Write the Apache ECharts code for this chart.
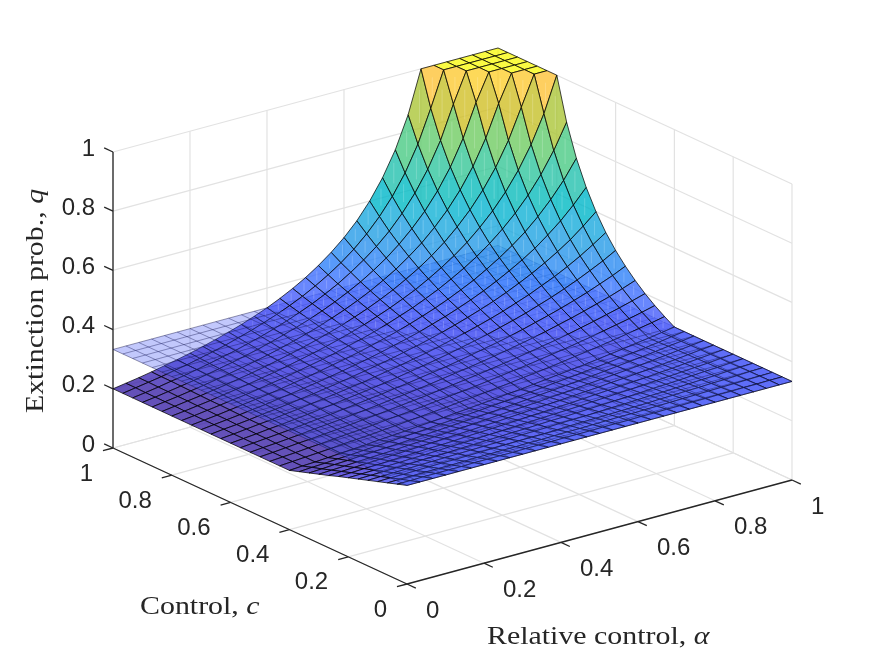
<!DOCTYPE html>
<html><head><meta charset="utf-8"><style>html,body{margin:0;background:#fff}#c{width:875px;height:657px}</style>
<script src="https://cdn.jsdelivr.net/npm/echarts@6/dist/echarts.min.js"></script></head>
<body><div id="c"></div><script>
// Extinction probability q: one row per control step c = 0, 1/30, ... 1,
// each row running over relative control alpha = 0, 1/30, ... 1.
const qRows=[
[.333,.333,.333,.333,.333,.333,.333,.333,.333,.333,.333,.333,.333,.333,.333,.333,.333,.333,.333,.333,.333,.333,.333,.333,.333,.333,.333,.333,.333,.333,.333],
[.322,.322,.323,.323,.323,.323,.324,.324,.324,.324,.325,.325,.325,.326,.326,.326,.327,.327,.327,.328,.328,.329,.329,.330,.330,.331,.331,.332,.332,.333,.333],
[.311,.312,.312,.313,.313,.313,.314,.315,.315,.316,.316,.317,.317,.318,.319,.319,.320,.321,.322,.322,.323,.324,.325,.326,.327,.328,.329,.330,.331,.332,.333],
[.300,.301,.301,.302,.303,.304,.304,.305,.306,.307,.308,.309,.310,.310,.311,.313,.314,.315,.316,.317,.318,.319,.321,.322,.324,.325,.327,.328,.330,.332,.333],
[.289,.290,.291,.292,.293,.294,.295,.296,.297,.298,.299,.300,.302,.303,.304,.306,.307,.308,.310,.312,.313,.315,.317,.318,.320,.322,.324,.326,.329,.331,.333],
[.278,.279,.280,.281,.282,.284,.285,.286,.288,.289,.291,.292,.294,.295,.297,.299,.300,.302,.304,.306,.308,.310,.312,.315,.317,.319,.322,.325,.327,.330,.333],
[.267,.268,.269,.271,.272,.274,.275,.277,.279,.280,.282,.284,.286,.288,.290,.292,.294,.296,.298,.301,.303,.306,.308,.311,.314,.317,.320,.323,.326,.330,.333],
[.256,.257,.259,.260,.262,.264,.266,.268,.269,.271,.274,.276,.278,.280,.282,.285,.287,.290,.292,.295,.298,.301,.304,.307,.310,.314,.317,.321,.325,.329,.333],
[.244,.246,.248,.250,.252,.254,.256,.258,.260,.263,.265,.267,.270,.272,.275,.278,.281,.284,.287,.290,.293,.296,.300,.303,.307,.311,.315,.319,.324,.329,.333],
[.233,.235,.237,.240,.242,.244,.246,.249,.251,.254,.256,.259,.262,.265,.268,.271,.274,.277,.281,.284,.288,.292,.296,.300,.304,.308,.313,.318,.323,.328,.333],
[.222,.224,.227,.229,.232,.234,.237,.239,.242,.245,.248,.251,.254,.257,.260,.264,.267,.271,.275,.279,.283,.287,.291,.296,.301,.306,.311,.316,.322,.327,.333],
[.211,.214,.216,.219,.221,.224,.227,.230,.233,.236,.239,.243,.246,.250,.253,.257,.261,.265,.269,.273,.278,.282,.287,.292,.297,.303,.308,.314,.320,.327,.333],
[.200,.203,.205,.208,.211,.214,.217,.221,.224,.227,.231,.234,.238,.242,.246,.250,.254,.259,.263,.268,.273,.278,.283,.288,.294,.300,.306,.313,.319,.326,.333],
[.200,.203,.206,.209,.212,.216,.219,.222,.226,.230,.234,.238,.242,.246,.251,.255,.260,.265,.270,.276,.281,.287,.293,.300,.306,.313,.320,.328,.336,.344,.353],
[.200,.203,.206,.210,.213,.217,.221,.224,.228,.233,.237,.241,.246,.251,.256,.261,.266,.272,.278,.284,.290,.297,.304,.311,.319,.327,.336,.345,.354,.364,.375],
[.200,.203,.207,.211,.214,.218,.222,.226,.231,.235,.240,.245,.250,.255,.261,.267,.273,.279,.286,.293,.300,.308,.316,.324,.333,.343,.353,.364,.375,.387,.400],
[.200,.204,.207,.211,.215,.220,.224,.228,.233,.238,.243,.249,.254,.260,.266,.273,.280,.287,.294,.302,.310,.319,.328,.338,.349,.360,.372,.385,.398,.413,.429],
[.200,.204,.208,.212,.216,.221,.226,.230,.236,.241,.247,.252,.259,.265,.272,.279,.286,.294,.303,.312,.321,.331,.342,.354,.366,.379,.393,.408,.425,.442,.462],
[.200,.204,.208,.213,.217,.222,.227,.233,.238,.244,.250,.256,.263,.270,.278,.286,.294,.303,.313,.323,.333,.345,.357,.370,.385,.400,.417,.435,.455,.476,.500],
[.200,.204,.209,.214,.218,.224,.229,.235,.241,.247,.254,.260,.268,.276,.284,.293,.302,.312,.323,.334,.346,.359,.373,.389,.405,.424,.443,.465,.489,.516,.545],
[.200,.205,.209,.214,.220,.225,.231,.237,.243,.250,.257,.265,.273,.281,.290,.300,.310,.321,.333,.346,.360,.375,.391,.409,.429,.450,.474,.500,.529,.563,.600],
[.200,.205,.210,.215,.221,.226,.233,.239,.246,.253,.261,.269,.278,.287,.297,.308,.319,.331,.345,.359,.375,.392,.411,.432,.455,.480,.508,.541,.577,.619,.667],
[.200,.205,.210,.216,.222,.228,.234,.241,.249,.256,.265,.274,.283,.293,.304,.316,.328,.342,.357,.373,.391,.411,.432,.457,.484,.514,.548,.588,.634,.687,.750],
[.200,.205,.211,.217,.223,.229,.236,.244,.251,.260,.269,.278,.288,.300,.311,.324,.338,.354,.370,.389,.409,.432,.457,.485,.517,.554,.596,.645,.703,.773,.857],
[.200,.205,.211,.217,.224,.231,.238,.246,.254,.263,.273,.283,.294,.306,.319,.333,.349,.366,.385,.405,.429,.455,.484,.517,.556,.600,.652,.714,.789,.882,1],
[.200,.206,.212,.218,.225,.232,.240,.248,.257,.267,.277,.288,.300,.313,.327,.343,.360,.379,.400,.424,.450,.480,.514,.554,.600,.655,.720,.800,.900,1,1],
[.200,.206,.212,.219,.226,.234,.242,.251,.260,.270,.281,.293,.306,.320,.336,.353,.372,.393,.417,.443,.474,.508,.549,.596,.652,.720,.804,.909,1,1,1],
[.200,.206,.213,.220,.227,.235,.244,.253,.263,.274,.286,.299,.313,.328,.345,.364,.385,.408,.435,.465,.500,.541,.588,.645,.714,.800,.909,1,1,1,1],
[.200,.206,.213,.221,.228,.237,.246,.256,.266,.278,.290,.304,.319,.336,.354,.375,.398,.425,.455,.489,.529,.577,.634,.703,.789,.900,1,1,1,1,1],
[.200,.207,.214,.221,.230,.238,.248,.258,.269,.282,.295,.310,.326,.344,.364,.387,.413,.442,.476,.516,.563,.619,.687,.773,.882,1,1,1,1,1,1],
[.200,.207,.214,.222,.231,.240,.250,.261,.273,.286,.300,.316,.333,.353,.375,.400,.429,.462,.500,.545,.600,.667,.750,.857,1,1,1,1,1,1,1]
];
const N=qRows.length-1;
// Level of the flat reference sheet.
const planeLevel=0.333;
const alphaTicks=[0,0.2,0.4,0.6,0.8,1],controlTicks=[0,0.2,0.4,0.6,0.8,1],qTicks=[0,0.2,0.4,0.6,0.8,1];
const parula=[[.2422,.1504,.6603],[.2504,.165,.7076],[.2578,.1818,.7511],[.2647,.1978,.7952],[.2706,.2147,.8364],[.2751,.2342,.871],[.2783,.2559,.8991],[.2803,.2782,.9221],[.2813,.3006,.9414],[.281,.3228,.9579],[.2795,.3447,.9717],[.276,.3667,.9829],[.2699,.3892,.9906],[.2602,.4123,.9952],[.244,.4358,.9988],[.2206,.4603,.9973],[.1963,.4847,.9892],[.1834,.5074,.9798],[.1786,.5289,.9682],[.1764,.5499,.952],[.1687,.5703,.9359],[.154,.5902,.9218],[.146,.6091,.9079],[.138,.6276,.8973],[.1248,.6459,.8883],[.1113,.6635,.8763],[.0952,.6798,.8598],[.0689,.6948,.8394],[.0297,.7082,.8163],[.0036,.7203,.7917],[.0067,.7312,.766],[.0433,.7411,.7394],[.0964,.75,.712],[.1408,.7584,.6842],[.1717,.767,.6554],[.1938,.7758,.6251],[.2161,.7843,.5923],[.247,.7918,.5567],[.2906,.7973,.5188],[.3406,.8008,.4789],[.3909,.8029,.4354],[.4456,.8024,.3909],[.5044,.7993,.348],[.5616,.7942,.3045],[.6174,.7876,.2612],[.672,.7793,.2227],[.7242,.7698,.191],[.7738,.7598,.1646],[.8203,.7498,.1535],[.8634,.7406,.1596],[.9035,.733,.1774],[.9393,.7288,.21],[.9728,.7298,.2394],[.9956,.7434,.2371],[.997,.7659,.2199],[.9952,.7893,.2028],[.9892,.8136,.1885],[.9786,.8386,.1766],[.9676,.8639,.1643],[.961,.889,.1537],[.9597,.9135,.1423],[.9628,.9373,.1265],[.9691,.9606,.1064],[.9769,.9839,.0805]];
const qMin=0.2,qMax=1,surfaceAlpha=0.8,planeAlpha=0.33;
// Orthographic view: screen displacement per unit of alpha, c and q.
const origin=[407,584],alphaDir=[385,-104],controlDir=[-294,-136],qDir=[0,-296];
const project=(a,c,q)=>[origin[0]+a*alphaDir[0]+c*controlDir[0]+q*qDir[0],origin[1]+a*alphaDir[1]+c*controlDir[1]+q*qDir[1]];
const depth=(a,c,q)=>275*a+359*c-112*q;
const faceColor=(q,al)=>{const i=Math.min(63,Math.floor((q-qMin)/(qMax-qMin)*64));const p=parula[i];return `rgba(${p[0]*255|0},${p[1]*255|0},${p[2]*255|0},${al})`;};
const chart=echarts.init(document.getElementById('c'),null,{renderer:'canvas'});
// Cells of both surfaces, painted far to near.
const cells=[];
for(let b=0;b<N;b++)for(let a=0;a<N;a++){
  const mean=(qRows[b][a]+qRows[b][a+1]+qRows[b+1][a]+qRows[b+1][a+1])/4;
  cells.push([a,b,0,depth((a+.5)/N,(b+.5)/N,mean)]);
  cells.push([a,b,1,depth((a+.5)/N,(b+.5)/N,planeLevel)]);
}
cells.sort((x,y)=>y[3]-x[3]);
const GRID='#e2e2e2',INK='#262626';
const seg=(api,p,q,color,w)=>{const s=api.coord(p),e=api.coord(q);return{type:'line',shape:{x1:s[0],y1:s[1],x2:e[0],y2:e[1]},style:{stroke:color,lineWidth:w}};};
const renderFrame=(params,api)=>{
  const ch=[];
  const P=project;
  qTicks.forEach(z=>{ch.push(seg(api,P(0,1,z),P(1,1,z),GRID,1.2));ch.push(seg(api,P(1,1,z),P(1,0,z),GRID,1.2));});
  alphaTicks.forEach(t=>{ch.push(seg(api,P(t,0,0),P(t,1,0),GRID,1.2));ch.push(seg(api,P(t,1,0),P(t,1,1),GRID,1.2));});
  controlTicks.forEach(t=>{ch.push(seg(api,P(0,t,0),P(1,t,0),GRID,1.2));ch.push(seg(api,P(1,t,0),P(1,t,1),GRID,1.2));});
  return{type:'group',children:ch};
};
const renderAxes=(params,api)=>{
  const ch=[];const P=project;
  ch.push(seg(api,P(0,1,0),P(0,1,1),INK,1.3));
  ch.push(seg(api,P(0,1,0),P(0,0,0),INK,1.3));
  ch.push(seg(api,P(0,0,0),P(1,0,0),INK,1.3));
  const label=(pt,dx,dy,txt,align)=>{const c=api.coord(pt);return{type:'text',x:c[0]+dx,y:c[1]+dy,style:{text:txt,fill:INK,font:'24px "Liberation Sans"',textAlign:align,textVerticalAlign:'middle'}};};
  qTicks.forEach(t=>{ch.push(seg(api,P(0,1,t),P(0,1.03,t),INK,1.3));ch.push(label(P(0,1,t),-18,-3,String(t),'right'));});
  controlTicks.forEach(t=>{ch.push(seg(api,P(0,t,0),P(-.026,t,0),INK,1.3));ch.push(label(P(0,t,0),-20,26,String(t),'right'));});
  alphaTicks.forEach(t=>{ch.push(seg(api,P(t,0,0),P(t,-.03,0),INK,1.3));ch.push(label(P(t,0,0),19,27,String(t),'left'));});
  return{type:'group',children:ch};
};
const renderCell=(params,api)=>{
  const a=api.value(0),b=api.value(1),layer=api.value(2);
  const q=(i,j)=>layer?planeLevel:qRows[j][i];
  const node=(i,j)=>api.coord(project(i/N,j/N,q(i,j)));
  const A=node(a,b),B=node(a+1,b),C=node(a+1,b+1),D=node(a,b+1);
  const al=layer?planeAlpha:surfaceAlpha;
  const edge=layer?'rgba(10,10,60,0.42)':'rgba(0,0,0,0.72)';
  const ch=[{type:'polygon',shape:{points:[A,B,C,D]},style:{fill:faceColor(q(a,b),al)}}];
  const line=(s,e)=>ch.push({type:'line',shape:{x1:s[0],y1:s[1],x2:e[0],y2:e[1]},style:{stroke:edge,lineWidth:1}});
  line(A,B);line(A,D);
  if(!layer){line(B,C);line(D,C);}
  else{if(a===N-1)line(B,C);if(b===N-1)line(D,C);}
  // Pale seam down the middle of steep quads.
  if(!layer){const cx=(B[0]+D[0])/2,mid=(A[1]+C[1])/2,h=Math.abs(A[1]-C[1]);if(h>14)ch.push({type:'line',shape:{x1:cx,y1:mid-h*.22,x2:cx,y2:mid+h*.22},style:{stroke:'rgba(255,255,255,0.28)',lineWidth:.7}});}
  return{type:'group',children:ch};
};
const titleRich={s:{font:'26px "Liberation Serif"',fill:INK},i:{font:'italic 26px "Liberation Serif"',fill:INK}};
chart.setOption({
  animation:false,
  grid:{left:0,right:0,top:0,bottom:0},
  xAxis:{type:'value',min:0,max:875,show:false},
  yAxis:{type:'value',min:0,max:657,inverse:true,show:false},
  series:[
    {type:'custom',coordinateSystem:'cartesian2d',data:[[0]],renderItem:renderFrame,silent:true,z:1},
    {type:'custom',coordinateSystem:'cartesian2d',data:[[0]],renderItem:renderAxes,silent:true,z:2},
    {type:'custom',coordinateSystem:'cartesian2d',data:cells,encode:{x:0,y:1},renderItem:renderCell,silent:true,z:3,progressive:0}
  ],
  graphic:[
    {type:'text',x:140,y:607,scaleX:1.15,style:{rich:titleRich,text:'{s|Control, }{i|c}',textVerticalAlign:'middle'}},
    {type:'text',x:487,y:637,scaleX:1.15,style:{rich:titleRich,text:'{s|Relative control, }{i|α}',textVerticalAlign:'middle'}},
    {type:'text',x:36,y:301,scaleX:1.15,rotation:Math.PI/2,style:{rich:titleRich,text:'{s|Extinction prob., }{i|q}',textAlign:'center',textVerticalAlign:'middle'}}
  ]
});
</script></body></html>
